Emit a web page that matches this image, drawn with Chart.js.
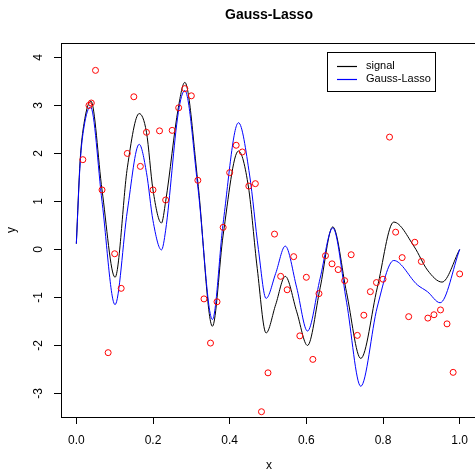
<!DOCTYPE html>
<html><head><meta charset="utf-8">
<script src="https://cdn.jsdelivr.net/npm/chart.js@4.4.1/dist/chart.umd.min.js"></script>
<style>html,body{margin:0;padding:0;background:#fff;overflow:hidden}canvas{display:block}</style>
</head><body>
<canvas id="c" width="480" height="472"></canvas>
<script>
const chartTitle = 'Gauss-Lasso';
const xAxisLabel = 'x';
const yAxisLabel = 'y';
const xTicks = [0, 0.2, 0.4, 0.6, 0.8, 1.0];
const yTicks = [-3, -2, -1, 0, 1, 2, 3, 4];

// observed noisy samples (red circles)
const obsX = [0.017,0.033,0.039,0.050,0.067,0.083,0.100,0.117,0.133,0.150,0.167,0.183,0.200,0.217,0.233,0.250,0.267,0.283,0.300,0.317,0.333,0.350,0.367,0.383,0.400,0.417,0.433,0.450,0.467,0.483,0.500,0.517,0.533,0.550,0.567,0.583,0.600,0.617,0.633,0.650,0.667,0.683,0.700,0.717,0.733,0.750,0.767,0.783,0.800,0.817,0.833,0.850,0.867,0.883,0.900,0.917,0.933,0.950,0.967,0.983,1.000];
const obsY = [1.87,3.00,3.05,3.73,1.24,-2.15,-0.09,-0.81,2.00,3.18,1.73,2.44,1.24,2.47,1.03,2.48,2.95,3.35,3.20,1.44,-1.03,-1.95,-1.09,0.46,1.60,2.17,2.03,1.32,1.37,-3.38,-2.57,0.32,-0.56,-0.84,-0.15,-1.80,-0.58,-2.29,-0.92,-0.13,-0.30,-0.42,-0.65,-0.11,-1.79,-1.37,-0.88,-0.69,-0.62,2.34,0.36,-0.17,-1.40,0.15,-0.25,-1.43,-1.36,-1.26,-1.55,-2.56,-0.51];

// true signal (black)
const signalX = [0,0.010,0.020,0.038,0.067,0.101,0.133,0.164,0.183,0.200,0.222,0.233,0.266,0.283,0.317,0.355,0.383,0.423,0.449,0.472,0.495,0.520,0.545,0.575,0.603,0.636,0.669,0.705,0.742,0.785,0.828,0.882,0.916,0.954,1.000];
const signalY = [0.12,1.86,2.62,3.09,1.24,-0.58,1.70,2.83,2.44,1.24,0.55,1.00,2.95,3.48,1.40,-1.60,0.30,2.05,1.30,-0.40,-1.74,-1.15,-0.56,-1.30,-2.00,-0.80,0.47,-0.90,-2.27,-0.80,0.57,0.05,-0.43,-0.68,0.00];

// Gauss-Lasso estimate (blue)
const fitX = [0,0.010,0.020,0.037,0.067,0.101,0.133,0.164,0.183,0.200,0.222,0.233,0.266,0.283,0.317,0.355,0.383,0.423,0.452,0.475,0.495,0.520,0.545,0.575,0.603,0.636,0.669,0.705,0.742,0.785,0.828,0.890,0.916,0.949,1.000];
const fitY = [0.12,1.80,2.55,2.97,1.00,-1.15,0.80,2.19,1.60,0.60,-0.01,0.40,2.85,3.31,1.30,-1.46,0.55,2.64,1.55,0.00,-1.02,-0.50,0.07,-0.80,-1.70,-0.60,0.45,-1.10,-2.85,-1.20,-0.23,-0.74,-0.88,-1.11,0.00];

const seriesColors = ['#000000', '#0000FF', '#FF0000'];
const toPts = (xs, ys) => xs.map((x, i) => ({x, y: ys[i]}));
const FONT = '"Liberation Sans", Arial, Helvetica, sans-serif';

const decor = {
  id: 'decor',
  afterDraw(chart) {
    const {ctx, chartArea: a, scales} = chart;
    ctx.save();
    // plot box
    ctx.strokeStyle = '#000';
    ctx.lineWidth = 1;
    ctx.strokeRect(Math.round(a.left) + 0.5, Math.round(a.top) + 0.5, Math.round(a.right - a.left), Math.round(a.bottom - a.top));
    // title
    ctx.fillStyle = '#000';
    ctx.font = 'bold 14px ' + FONT;
    ctx.textAlign = 'center';
    ctx.textBaseline = 'middle';
    ctx.fillText(chartTitle, 269, 15);
    // axis titles
    ctx.font = '12px ' + FONT;
    ctx.fillText(xAxisLabel, 269, 466);
    ctx.save();
    ctx.translate(12, (a.top + a.bottom) / 2);
    ctx.rotate(-Math.PI / 2);
    ctx.fillText(yAxisLabel, 0, 0);
    ctx.restore();
    // y tick labels (rotated, R style)
    yTicks.forEach(v => {
      const py = scales.y.getPixelForValue(v);
      ctx.save();
      ctx.translate(39, py);
      ctx.rotate(-Math.PI / 2);
      ctx.fillText(String(v), 0, 0);
      ctx.restore();
    });
    // legend
    const lx = 327, ly = 52, lw = 108, lh = 39;
    ctx.fillStyle = '#fff';
    ctx.fillRect(lx, ly, lw, lh);
    ctx.strokeStyle = '#000';
    ctx.lineWidth = 1;
    ctx.strokeRect(lx + 0.5, ly + 0.5, lw, lh);
    ctx.font = '11px ' + FONT;
    ctx.textAlign = 'left';
    [0, 1].forEach(i => {
      const ds = chart.data.datasets[i];
      const yy = 66 + i * 13;
      ctx.strokeStyle = seriesColors[i];
      ctx.lineWidth = 1.2;
      ctx.beginPath();
      ctx.moveTo(337, yy + 0.5);
      ctx.lineTo(357, yy + 0.5);
      ctx.stroke();
      ctx.fillStyle = '#000';
      ctx.fillText(ds.label, 366, yy);
    });
    ctx.restore();
  }
};

new Chart(document.getElementById('c'), {
  type: 'scatter',
  data: {
    datasets: [
      {label: 'signal', data: toPts(signalX, signalY), showLine: true, borderColor: seriesColors[0], borderWidth: 1, pointRadius: 0, cubicInterpolationMode: 'monotone', order: 2},
      {label: 'Gauss-Lasso', data: toPts(fitX, fitY), showLine: true, borderColor: seriesColors[1], borderWidth: 1, pointRadius: 0, cubicInterpolationMode: 'monotone', order: 1},
      {label: 'data', data: toPts(obsX, obsY), showLine: false, borderColor: seriesColors[2], backgroundColor: 'rgba(0,0,0,0)', borderWidth: 1, pointRadius: 3, order: 0}
    ]
  },
  options: {
    responsive: false,
    animation: false,
    devicePixelRatio: 1,
    layout: {padding: {top: 43, right: 2, left: 0, bottom: 0}},
    plugins: {legend: {display: false}, tooltip: {enabled: false}, title: {display: false}},
    scales: {
      x: {
        type: 'linear', min: -0.04, max: 1.04,
        afterBuildTicks: s => { s.ticks = xTicks.map(v => ({value: v})); },
        afterFit: s => { s.height = 55; },
        grid: {drawOnChartArea: false, drawTicks: true, tickLength: 7, color: '#000'},
        border: {display: false},
        ticks: {autoSkip: false, maxRotation: 0, color: '#000', padding: 9, font: {family: FONT, size: 12}, callback: v => Number(v).toFixed(1)}
      },
      y: {
        type: 'linear', min: -3.49, max: 4.30,
        afterBuildTicks: s => { s.ticks = yTicks.map(v => ({value: v})); },
        afterFit: s => { s.width = 61; },
        grid: {drawOnChartArea: false, drawTicks: true, tickLength: 7, color: '#000'},
        border: {display: false},
        ticks: {display: false}
      }
    }
  },
  plugins: [decor]
});
</script>
</body></html>
